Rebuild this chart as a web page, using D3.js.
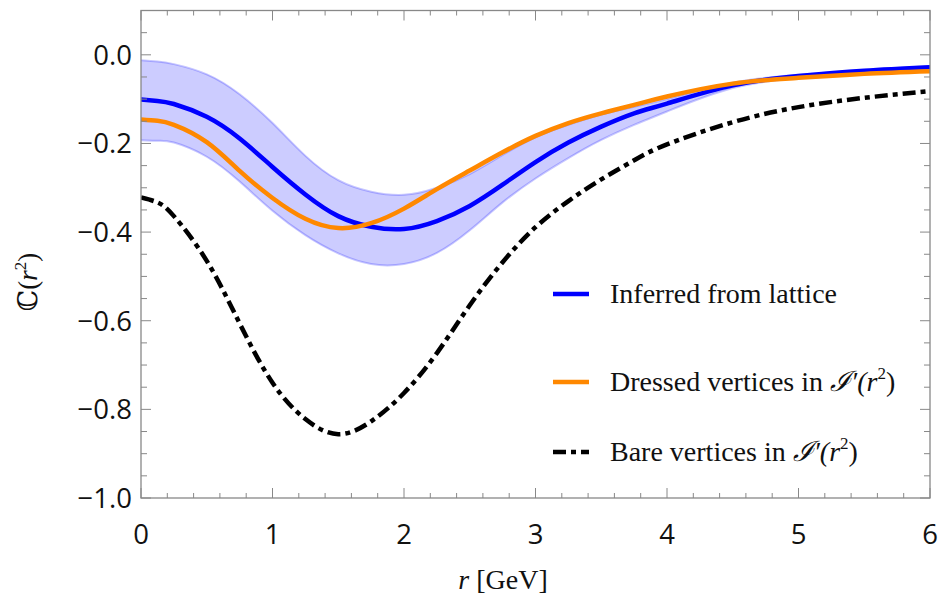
<!DOCTYPE html>
<html lang="en">
<head>
<meta charset="UTF-8">
<title>C(r^2) chart</title>
<script src="https://d3js.org/d3.v7.min.js"></script>
<style>
    body { margin: 0; background: #fff; }
    .tick-label { font-family: "Open Sans", sans-serif; font-size: 27.5px; fill: #111; }
    .serif { font-family: "Liberation Serif", "DejaVu Serif", serif; fill: #111; }
</style>
</head>
<body>
<svg width="938" height="599"></svg>
<script>
    // values
    const rGrid = [0, 0.125, 0.25, 0.5, 0.75, 1, 1.25, 1.5, 1.75, 2, 2.25, 2.5, 2.75, 3, 3.25, 3.5, 3.75, 4, 4.5, 5, 5.5, 6];
    const lattice = [-0.101, -0.104, -0.111, -0.140, -0.189, -0.253, -0.315, -0.364, -0.388, -0.393, -0.375, -0.341, -0.293, -0.242, -0.198, -0.162, -0.132, -0.110, -0.069, -0.048, -0.036, -0.028];
    const bandUpper = [-0.012, -0.015, -0.021, -0.044, -0.089, -0.154, -0.228, -0.283, -0.309, -0.316, -0.300, -0.269, -0.226, -0.186, -0.158, -0.135, -0.117, -0.100, -0.063, -0.045, -0.034, -0.026];
    const bandLower = [-0.193, -0.194, -0.198, -0.230, -0.286, -0.352, -0.407, -0.448, -0.472, -0.472, -0.447, -0.396, -0.333, -0.279, -0.233, -0.192, -0.158, -0.128, -0.075, -0.052, -0.038, -0.030];
    const dressed = [-0.146, -0.149, -0.158, -0.197, -0.262, -0.323, -0.370, -0.391, -0.380, -0.347, -0.303, -0.261, -0.220, -0.183, -0.154, -0.132, -0.113, -0.094, -0.065, -0.052, -0.043, -0.037];
    const bare = [-0.322, -0.333, -0.364, -0.465, -0.606, -0.740, -0.822, -0.856, -0.827, -0.763, -0.673, -0.565, -0.468, -0.389, -0.330, -0.281, -0.238, -0.202, -0.152, -0.118, -0.097, -0.082];

    const xTicks = [0, 1, 2, 3, 4, 5, 6];
    const yTicks = [0, -0.2, -0.4, -0.6, -0.8, -1.0];
    const legendLabels = ["Inferred from lattice", "Dressed vertices in ", "Bare vertices in "];

    const svg = d3.select("svg");
    const pLeft = 141, pRight = 930, pTop = 10.5, pBottom = 498;

    const x = d3.scaleLinear().domain([0, 6]).range([pLeft, pRight]);
    const y = d3.scaleLinear().domain([-1, 0.1]).range([pBottom, pTop]);

    const plot = svg.append("g");
    plot.append("clipPath").attr("id", "clip")
        .append("rect").attr("x", pLeft).attr("y", pTop).attr("width", pRight - pLeft).attr("height", pBottom - pTop);
    const g = plot.append("g").attr("clip-path", "url(#clip)");

    const pts = (vals) => rGrid.map((r, i) => [r, vals[i]]);
    const line = d3.line().x(d => x(d[0])).y(d => y(d[1])).curve(d3.curveNatural);

    // uncertainty band
    const band = d3.area()
        .x((r, i) => x(r))
        .y0((r, i) => y(bandLower[i]))
        .y1((r, i) => y(bandUpper[i]))
        .curve(d3.curveNatural);
    g.append("path").datum(rGrid).attr("d", band)
        .attr("fill", "rgb(0,0,255)").attr("fill-opacity", 0.2);
    [bandUpper, bandLower].forEach(function (b) {
        g.append("path").datum(pts(b)).attr("d", line)
            .attr("fill", "none").attr("stroke", "rgb(0,0,255)").attr("stroke-opacity", 0.22).attr("stroke-width", 2);
    });

    g.append("path").datum(pts(bare)).attr("d", line)
        .attr("fill", "none").attr("stroke", "#000").attr("stroke-width", 4.5)
        .attr("stroke-dasharray", "13,5,5,5");
    g.append("path").datum(pts(lattice)).attr("d", line)
        .attr("fill", "none").attr("stroke", "#0000ff").attr("stroke-width", 4.5);
    g.append("path").datum(pts(dressed)).attr("d", line)
        .attr("fill", "none").attr("stroke", "#ff8800").attr("stroke-width", 4.5);

    // frame and ticks
    const frame = svg.append("g").attr("stroke", "#888").attr("fill", "none");
    frame.append("rect").attr("x", pLeft).attr("y", pTop).attr("width", pRight - pLeft).attr("height", pBottom - pTop)
        .attr("stroke-width", 1.3);

    const xMinor = d3.range(0, 6.001, 0.2);
    xMinor.forEach(function (v) {
        const major = Math.abs(v - Math.round(v)) < 1e-6;
        const len = major ? 10 : 5;
        frame.append("line").attr("x1", x(v)).attr("x2", x(v)).attr("y1", pBottom).attr("y2", pBottom - len);
        frame.append("line").attr("x1", x(v)).attr("x2", x(v)).attr("y1", pTop).attr("y2", pTop + len);
    });
    const yMinor = d3.range(-1, 0.101, 0.05);
    yMinor.forEach(function (v) {
        const major = Math.abs(v * 5 - Math.round(v * 5)) < 1e-6;
        const len = major ? 10 : 6;
        frame.append("line").attr("y1", y(v)).attr("y2", y(v)).attr("x1", pLeft).attr("x2", pLeft + len);
        frame.append("line").attr("y1", y(v)).attr("y2", y(v)).attr("x1", pRight).attr("x2", pRight - len);
    });

    svg.append("g").selectAll("text").data(xTicks).join("text")
        .attr("class", "tick-label")
        .attr("x", d => x(d)).attr("y", 544)
        .attr("text-anchor", "middle")
        .text(d => d);
    svg.append("g").selectAll("text").data(yTicks).join("text")
        .attr("class", "tick-label")
        .attr("x", 132).attr("y", d => y(d) + 10)
        .attr("text-anchor", "end")
        .text(d => d3.format(".1f")(d).replace("-", "\u2212"));

    // axis titles
    const xt = svg.append("text").attr("class", "serif").attr("x", 503).attr("y", 589)
        .attr("text-anchor", "middle").attr("font-size", 28);
    xt.append("tspan").attr("font-style", "italic").text("r");
    xt.append("tspan").text(" [GeV]");

    const yt = svg.append("text").attr("class", "serif")
        .attr("transform", "translate(37,282) rotate(-90)")
        .attr("text-anchor", "middle").attr("font-size", 27);
    yt.append("tspan").text("\u2102(");
    yt.append("tspan").attr("font-style", "italic").text("r");
    yt.append("tspan").attr("font-size", 17).attr("dy", -11).text("2");
    yt.append("tspan").attr("dy", 11).text(")");

    // legend
    const legendY = [294, 382, 452];
    const legendStyle = [
        { color: "#0000ff", dash: null },
        { color: "#ff8800", dash: null },
        { color: "#000", dash: "13,5,5,5" }
    ];
    legendLabels.forEach(function (lab, i) {
        svg.append("line").attr("x1", 553).attr("x2", 589).attr("y1", legendY[i]).attr("y2", legendY[i])
            .attr("stroke", legendStyle[i].color).attr("stroke-width", 4.5)
            .attr("stroke-dasharray", legendStyle[i].dash);
        const t = svg.append("text").attr("class", "serif").attr("x", 610).attr("y", legendY[i] + 9)
            .attr("font-size", 28);
        t.append("tspan").text(lab);
        if (i > 0) {
            t.append("tspan").attr("font-style", "italic").text("\u2110\u2032(");
            t.append("tspan").attr("font-style", "italic").text("r");
            t.append("tspan").attr("font-size", 17).attr("dy", -12).text("2");
            t.append("tspan").attr("dy", 12).text(")");
        }
    });
</script>
</body>
</html>
